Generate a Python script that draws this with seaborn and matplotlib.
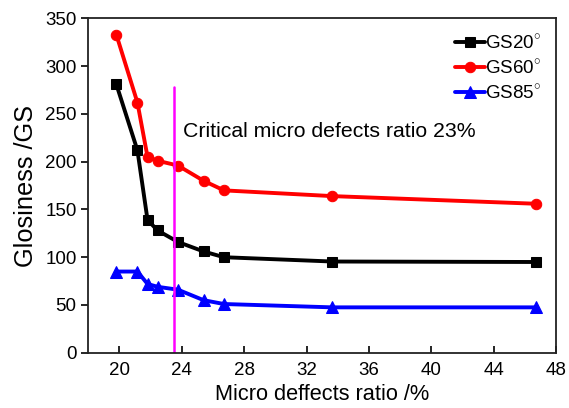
import matplotlib
matplotlib.use("Agg")
import matplotlib.pyplot as plt
import seaborn as sns
import pandas as pd

x_ratio = [19.8, 21.15, 21.8, 22.45, 23.75, 25.4, 26.7, 33.65, 46.7]
gs20 = [281, 212, 139, 128, 116, 106, 100, 95.5, 95]
gs60 = [333, 262, 205, 201, 196, 180, 170, 164, 156]
gs85 = [85, 85, 72, 69, 66, 55, 51, 47.5, 47.5]
series_names = ["GS20$^{\\circ}$", "GS60$^{\\circ}$", "GS85$^{\\circ}$"]
critical_x = 23.5
critical_top = 278
annot_text = "Critical micro defects ratio 23%"
x_ticks = [20, 24, 28, 32, 36, 40, 44, 48]
y_ticks = [0, 50, 100, 150, 200, 250, 300, 350]

sns.set_style("ticks")
plt.rcParams['font.family'] = ['Liberation Sans', 'DejaVu Sans']
plt.rcParams['mathtext.fontset'] = 'custom'
plt.rcParams['mathtext.rm'] = 'Liberation Sans'
plt.rcParams['text.color'] = 'black'
plt.rcParams['axes.labelcolor'] = 'black'
plt.rcParams['xtick.color'] = 'black'
plt.rcParams['ytick.color'] = 'black'

fig = plt.figure(figsize=(5.69, 4.08), dpi=100)
ax = fig.add_axes([0.1552, 0.1355, 0.977 - 0.1552, 0.9547 - 0.1355])

styles = [("black", "s", 7), ("red", "o", 7.5), ("blue", "^", 8)]
for vals, name, (c, m, ms) in zip([gs20, gs60, gs85], series_names, styles):
    df = pd.DataFrame({"x": x_ratio, "y": vals})
    sns.lineplot(data=df, x="x", y="y", ax=ax, color=c, marker=m, markersize=ms,
                 markeredgecolor=c, linewidth=2.8, label=name, sort=False)

ax.plot([critical_x, critical_x], [0, critical_top], color="#ff00ff", linewidth=1.8)
ax.text(24.05, 232, annot_text, fontsize=15.3, ha="left", va="center", color="black")

ax.set_xlim(18, 48)
ax.set_ylim(0, 350)
ax.set_xticks(x_ticks)
ax.set_yticks(y_ticks)
ax.tick_params(axis="x", direction="in", length=5, width=1.2, labelsize=13.5, pad=7)
ax.tick_params(axis="y", direction="out", length=5, width=1.2, labelsize=13.5)
for s in ax.spines.values():
    s.set_visible(True)
    s.set_linewidth(1.3)
    s.set_color("#222222")
ax.set_xlabel("Micro deffects ratio /%", fontsize=15.7, labelpad=3)
ax.set_ylabel("Glosiness /GS", fontsize=18.3, labelpad=5)

leg = ax.legend(loc="upper right", frameon=False, fontsize=13.5, handlelength=1.55,
                handletextpad=0.0, labelspacing=0.32, borderaxespad=0.3,
                bbox_to_anchor=(0.995, 0.995))

fig.savefig("out.png", dpi=100)
